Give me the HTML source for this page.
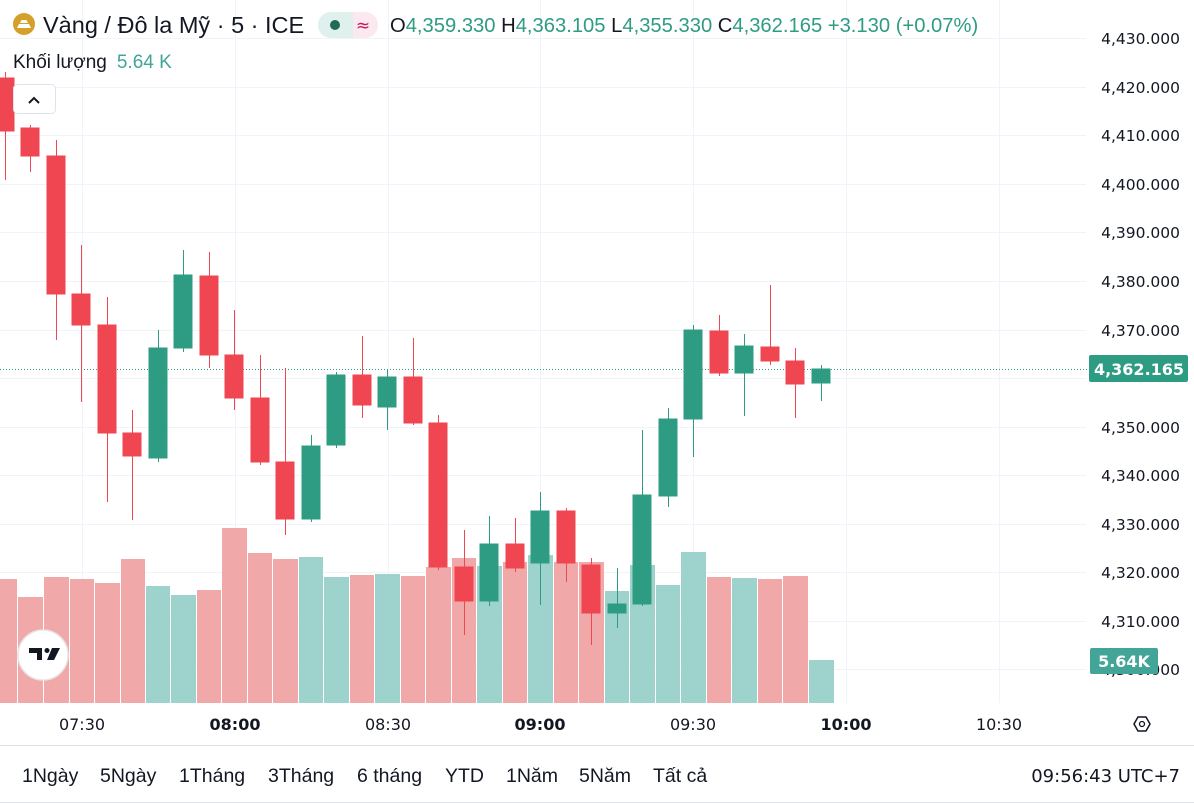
<!DOCTYPE html>
<html><head><meta charset="utf-8"><style>
html,body{margin:0;padding:0;background:#fff;}
body{width:1194px;height:804px;overflow:hidden;position:relative;font-family:"Liberation Sans",sans-serif;}
svg{position:absolute;left:0;top:0;}
</style></head><body>
<svg width="1194" height="804" xmlns="http://www.w3.org/2000/svg">
<g stroke="#f0f3fa" stroke-width="1">
<line x1="0" y1="38.5" x2="1086" y2="38.5"/><line x1="0" y1="87.5" x2="1086" y2="87.5"/><line x1="0" y1="135.5" x2="1086" y2="135.5"/><line x1="0" y1="184.5" x2="1086" y2="184.5"/><line x1="0" y1="232.5" x2="1086" y2="232.5"/><line x1="0" y1="281.5" x2="1086" y2="281.5"/><line x1="0" y1="330.5" x2="1086" y2="330.5"/><line x1="0" y1="378.5" x2="1086" y2="378.5"/><line x1="0" y1="427.5" x2="1086" y2="427.5"/><line x1="0" y1="475.5" x2="1086" y2="475.5"/><line x1="0" y1="524.5" x2="1086" y2="524.5"/><line x1="0" y1="572.5" x2="1086" y2="572.5"/><line x1="0" y1="621.5" x2="1086" y2="621.5"/><line x1="0" y1="669.5" x2="1086" y2="669.5"/>
<line x1="82.5" y1="0" x2="82.5" y2="703"/><line x1="235.5" y1="0" x2="235.5" y2="703"/><line x1="388.5" y1="0" x2="388.5" y2="703"/><line x1="540.5" y1="0" x2="540.5" y2="703"/><line x1="693.5" y1="0" x2="693.5" y2="703"/><line x1="846.5" y1="0" x2="846.5" y2="703"/><line x1="999.5" y1="0" x2="999.5" y2="703"/>
</g>
<g>
<rect x="0" y="579" width="17" height="124" fill="#f0a8a8"/>
<rect x="18" y="597" width="25" height="106" fill="#f0a8a8"/>
<rect x="44" y="577" width="25" height="126" fill="#f0a8a8"/>
<rect x="70" y="579" width="24" height="124" fill="#f0a8a8"/>
<rect x="95" y="583" width="25" height="120" fill="#f0a8a8"/>
<rect x="121" y="559" width="24" height="144" fill="#f0a8a8"/>
<rect x="146" y="586" width="24" height="117" fill="#9dd3cc"/>
<rect x="171" y="595" width="25" height="108" fill="#9dd3cc"/>
<rect x="197" y="590" width="24" height="113" fill="#f0a8a8"/>
<rect x="222" y="528" width="25" height="175" fill="#f0a8a8"/>
<rect x="248" y="553" width="24" height="150" fill="#f0a8a8"/>
<rect x="273" y="559" width="25" height="144" fill="#f0a8a8"/>
<rect x="299" y="557" width="24" height="146" fill="#9dd3cc"/>
<rect x="324" y="577" width="25" height="126" fill="#9dd3cc"/>
<rect x="350" y="575" width="24" height="128" fill="#f0a8a8"/>
<rect x="375" y="574" width="25" height="129" fill="#9dd3cc"/>
<rect x="401" y="576" width="24" height="127" fill="#f0a8a8"/>
<rect x="426" y="567" width="25" height="136" fill="#f0a8a8"/>
<rect x="452" y="558" width="24" height="145" fill="#f0a8a8"/>
<rect x="477" y="566" width="25" height="137" fill="#9dd3cc"/>
<rect x="503" y="562" width="24" height="141" fill="#f0a8a8"/>
<rect x="528" y="555" width="25" height="148" fill="#9dd3cc"/>
<rect x="554" y="562" width="24" height="141" fill="#f0a8a8"/>
<rect x="579" y="562" width="25" height="141" fill="#f0a8a8"/>
<rect x="605" y="591" width="24" height="112" fill="#9dd3cc"/>
<rect x="630" y="565" width="25" height="138" fill="#9dd3cc"/>
<rect x="656" y="585" width="24" height="118" fill="#9dd3cc"/>
<rect x="681" y="552" width="25" height="151" fill="#9dd3cc"/>
<rect x="707" y="577" width="24" height="126" fill="#f0a8a8"/>
<rect x="732" y="578" width="25" height="125" fill="#9dd3cc"/>
<rect x="758" y="579" width="24" height="124" fill="#f0a8a8"/>
<rect x="783" y="576" width="25" height="127" fill="#f0a8a8"/>
<rect x="809" y="660" width="25" height="43" fill="#9dd3cc"/>
</g>
<line x1="0" y1="369.5" x2="1088" y2="369.5" stroke="#2e9c82" stroke-width="1" stroke-dasharray="1,2"/>
<g stroke-width="1">
<g stroke="#ef4652" fill="#ef4652">
<line x1="5.5" y1="72" x2="5.5" y2="180"/><rect x="-4" y="78" width="18" height="53"/>
<line x1="30.5" y1="125" x2="30.5" y2="172"/><rect x="21" y="128" width="18" height="28"/>
<line x1="56.5" y1="140" x2="56.5" y2="340"/><rect x="47" y="156" width="18" height="138"/>
<line x1="81.5" y1="245" x2="81.5" y2="402"/><rect x="72" y="294" width="18" height="31"/>
<line x1="107.5" y1="297" x2="107.5" y2="502"/><rect x="98" y="325" width="18" height="108"/>
<line x1="132.5" y1="410" x2="132.5" y2="520"/><rect x="123" y="433" width="18" height="23"/>
<line x1="209.5" y1="252" x2="209.5" y2="368"/><rect x="200" y="276" width="18" height="79"/>
<line x1="234.5" y1="310" x2="234.5" y2="410"/><rect x="225" y="355" width="18" height="43"/>
<line x1="260.5" y1="355" x2="260.5" y2="465"/><rect x="251" y="398" width="18" height="64"/>
<line x1="285.5" y1="368" x2="285.5" y2="535"/><rect x="276" y="462" width="18" height="57"/>
<line x1="362.5" y1="336" x2="362.5" y2="418"/><rect x="353" y="375" width="18" height="30"/>
<line x1="413.5" y1="338" x2="413.5" y2="425"/><rect x="404" y="377" width="18" height="46"/>
<line x1="438.5" y1="415" x2="438.5" y2="570"/><rect x="429" y="423" width="18" height="144"/>
<line x1="464.5" y1="530" x2="464.5" y2="635"/><rect x="455" y="567" width="18" height="34"/>
<line x1="515.5" y1="518" x2="515.5" y2="572"/><rect x="506" y="544" width="18" height="24"/>
<line x1="566.5" y1="508" x2="566.5" y2="582"/><rect x="557" y="511" width="18" height="52"/>
<line x1="591.5" y1="558" x2="591.5" y2="645"/><rect x="582" y="565" width="18" height="48"/>
<line x1="719.5" y1="315" x2="719.5" y2="376"/><rect x="710" y="331" width="18" height="42"/>
<line x1="770.5" y1="285" x2="770.5" y2="365"/><rect x="761" y="347" width="18" height="14"/>
<line x1="795.5" y1="348" x2="795.5" y2="418"/><rect x="786" y="361" width="18" height="23"/>
</g>
<g stroke="#2e9c82" fill="#2e9c82">
<line x1="158.5" y1="330" x2="158.5" y2="462"/><rect x="149" y="348" width="18" height="110"/>
<line x1="183.5" y1="250" x2="183.5" y2="352"/><rect x="174" y="275" width="18" height="73"/>
<line x1="311.5" y1="435" x2="311.5" y2="522"/><rect x="302" y="446" width="18" height="73"/>
<line x1="336.5" y1="372" x2="336.5" y2="448"/><rect x="327" y="375" width="18" height="70"/>
<line x1="387.5" y1="370" x2="387.5" y2="430"/><rect x="378" y="377" width="18" height="30"/>
<line x1="489.5" y1="516" x2="489.5" y2="606"/><rect x="480" y="544" width="18" height="57"/>
<line x1="540.5" y1="492" x2="540.5" y2="605"/><rect x="531" y="511" width="18" height="52"/>
<line x1="617.5" y1="568" x2="617.5" y2="628"/><rect x="608" y="604" width="18" height="9"/>
<line x1="642.5" y1="430" x2="642.5" y2="606"/><rect x="633" y="495" width="18" height="109"/>
<line x1="668.5" y1="408" x2="668.5" y2="507"/><rect x="659" y="419" width="18" height="77"/>
<line x1="693.5" y1="325" x2="693.5" y2="457"/><rect x="684" y="330" width="18" height="89"/>
<line x1="744.5" y1="334" x2="744.5" y2="416"/><rect x="735" y="346" width="18" height="27"/>
<line x1="821.5" y1="365" x2="821.5" y2="401"/><rect x="812" y="369" width="18" height="14"/>
</g>
</g>
<g font-family="DejaVu Sans, sans-serif" font-size="15.5" fill="#131722" text-anchor="end">
<text x="1180" y="44">4,430.000</text><text x="1180" y="93">4,420.000</text><text x="1180" y="141">4,410.000</text><text x="1180" y="190">4,400.000</text><text x="1180" y="238">4,390.000</text><text x="1180" y="287">4,380.000</text><text x="1180" y="336">4,370.000</text><text x="1180" y="433">4,350.000</text><text x="1180" y="481">4,340.000</text><text x="1180" y="530">4,330.000</text><text x="1180" y="578">4,320.000</text><text x="1180" y="627">4,310.000</text><text x="1180" y="675">4,300.000</text>
</g>
<rect x="1089" y="355" width="99" height="27" rx="2" fill="#2e9c82"/>
<text x="1139" y="375" font-family="DejaVu Sans, sans-serif" font-size="16" fill="#fff" text-anchor="middle" font-weight="bold">4,362.165</text>
<rect x="1090" y="648" width="68" height="26" rx="2" fill="#42a597"/>
<text x="1124" y="667" font-family="DejaVu Sans, sans-serif" font-size="16" fill="#fff" text-anchor="middle" font-weight="bold">5.64K</text>
<g font-family="DejaVu Sans, sans-serif" font-size="16" fill="#131722" text-anchor="middle">
<text x="82" y="730">07:30</text><text x="235" y="730" font-weight="bold">08:00</text><text x="388" y="730">08:30</text><text x="540" y="730" font-weight="bold">09:00</text><text x="693" y="730">09:30</text><text x="846" y="730" font-weight="bold">10:00</text><text x="999" y="730">10:30</text>
</g>
<polygon points="1134,724 1138,717 1146,717 1150,724 1146,731 1138,731" fill="none" stroke="#131722" stroke-width="1.5"/>
<circle cx="1142" cy="724" r="2.5" fill="none" stroke="#131722" stroke-width="1.3"/>
<line x1="0" y1="745.5" x2="1194" y2="745.5" stroke="#e0e3eb"/>
<line x1="0" y1="802.5" x2="1194" y2="802.5" stroke="#e0e3eb"/>
<g font-family="Liberation Sans, sans-serif" font-size="19.5" fill="#131722">
<text x="22" y="782">1Ngày</text><text x="100" y="782">5Ngày</text><text x="179" y="782">1Tháng</text><text x="268" y="782">3Tháng</text><text x="357" y="782">6 tháng</text><text x="445" y="782">YTD</text><text x="506" y="782">1Năm</text><text x="579" y="782">5Năm</text><text x="653" y="782">Tất cả</text>
<text x="1180" y="782" text-anchor="end" font-family="DejaVu Sans, sans-serif" font-size="18">09:56:43 UTC+7</text>
</g>
<circle cx="43" cy="655" r="25" fill="#fff" stroke="#e6e6e6" stroke-width="1.5"/>
<path d="M29 648 h13 v12 h-5 v-7 h-8z" fill="#131722"/>
<circle cx="47" cy="650.5" r="2.5" fill="#131722"/>
<path d="M52 648 h8 l-6 12 h-7z" fill="#131722"/>
<circle cx="24" cy="24" r="11" fill="#d4a02a"/>
<path d="M17 28 h14 l-2 -4 h-10z M20 23 h8 l-1.5 -3 h-5z" fill="#fff"/>
<text x="43" y="33" font-family="Liberation Sans, sans-serif" font-size="23.5" fill="#131722">Vàng / Đô la Mỹ · 5 · ICE</text>
<rect x="318" y="12" width="60" height="26" rx="13" fill="#fce8ef"/>
<path d="M331 12 h22 v26 h-22 a13 13 0 0 1 0 -26z" fill="#e0f1ed"/>
<circle cx="335" cy="25" r="5" fill="#1e6b58"/>
<text x="363" y="31" font-family="DejaVu Sans, sans-serif" font-size="17" fill="#c2185b" text-anchor="middle">≈</text>
<g font-family="Liberation Sans, sans-serif" font-size="20.2">
<text x="390" y="32"><tspan fill="#131722">O</tspan><tspan fill="#2e9c82">4,359.330</tspan><tspan fill="#131722"> H</tspan><tspan fill="#2e9c82">4,363.105</tspan><tspan fill="#131722"> L</tspan><tspan fill="#2e9c82">4,355.330</tspan><tspan fill="#131722"> C</tspan><tspan fill="#2e9c82">4,362.165 +3.130 (+0.07%)</tspan></text>
<text x="13" y="68" font-size="19"><tspan fill="#131722">Khối lượng</tspan><tspan fill="#42a597" dx="10">5.64 K</tspan></text>
</g>
<rect x="13.5" y="84.5" width="42" height="29" rx="4" fill="#fff" stroke="#e0e3eb"/>
<path d="M29 103 l5 -5 l5 5" fill="none" stroke="#131722" stroke-width="2"/>
</svg>
</body></html>
